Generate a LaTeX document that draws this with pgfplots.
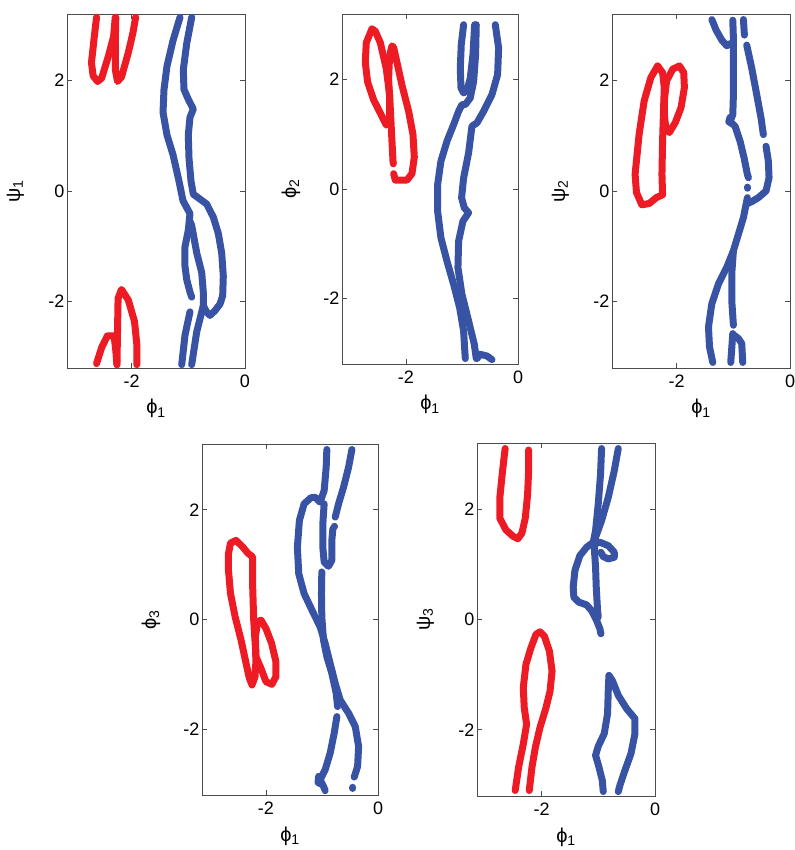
\documentclass[border=0pt]{standalone}
\usepackage{fontspec}
\setmainfont{Liberation Sans}
\usepackage{pgfplots}
\pgfplotsset{compat=1.18}
\definecolor{cred}{RGB}{237,28,36}
\definecolor{cblue}{RGB}{57,83,164}
\pgfplotsset{
  panel/.style={
    scale only axis, anchor=south west,
    xmin=-3.1416, xmax=0, ymin=-3.2, ymax=3.2,
    xtick={-2,0}, ytick={-2,0,2},
    tick align=inside, major tick length=5pt,
    axis line style={black!70, line width=0.7pt},
    every tick/.style={black!70, line width=0.7pt},
    tick label style={font=\fontsize{18}{21}\selectfont},
    xticklabel style={yshift=-3pt},
    yticklabel style={xshift=1pt},
    label style={font=\fontsize{20}{23}\selectfont},
    xlabel style={at={(axis description cs:0.5,0)}, anchor=base, yshift=-46pt},
    ylabel style={at={(axis description cs:-0.29,0.5)}, anchor=center},
    /pgf/number format/assume math mode=true,
    clip=true,
  },
  rc/.style={draw=cred, line width=7pt, line cap=round, line join=round, no marks},
  bc/.style={draw=cblue, line width=7pt, line cap=round, line join=round, no marks},
}
\begin{document}
\begin{tikzpicture}
\useasboundingbox (0,0) rectangle (794pt,850pt);
% ---------------- Panel 1
\begin{axis}[panel, at={(67pt,482pt)}, width=178pt, height=354pt,
  xlabel={ϕ\textsubscript{1}}, ylabel={ψ\textsubscript{1}}]
\addplot[rc] coordinates {(-2.62,3.14) (-2.66,2.79) (-2.71,2.32) (-2.68,2.08) (-2.60,1.98) (-2.53,2.04) (-2.41,2.44) (-2.32,2.79) (-2.29,3.14)};
\addplot[rc] coordinates {(-2.28,3.14) (-2.29,2.67) (-2.29,2.20) (-2.25,1.98) (-2.18,2.06) (-2.06,2.50) (-1.98,2.85) (-1.93,3.14)};
\addplot[rc] coordinates {(-2.26,-3.14) (-2.25,-2.53) (-2.24,-1.94) (-2.18,-1.78) (-2.06,-1.97) (-1.95,-2.36) (-1.91,-2.77) (-1.91,-3.14)};
\addplot[rc] coordinates {(-2.62,-3.12) (-2.53,-2.83) (-2.43,-2.62) (-2.31,-2.62) (-2.28,-2.89) (-2.26,-3.14)};
\addplot[bc] coordinates {(-1.147,3.14) (-1.271,2.718) (-1.377,2.256) (-1.430,1.830) (-1.447,1.421) (-1.377,1.012) (-1.271,0.657) (-1.165,0.178) (-1.094,-0.178) (-0.971,-0.409) (-1.001,-0.710) (-1.059,-1.007) (-1.059,-1.362) (-1.029,-1.599) (-0.971,-1.829) (-0.941,-1.918)};
\addplot[bc] coordinates {(-0.941,3.14) (-1.029,2.664) (-1.089,2.190) (-1.077,1.835) (-1.001,1.657) (-0.912,1.480) (-0.971,1.332) (-1.001,1.012) (-0.988,0.586) (-0.953,0.178) (-0.912,-0.059) (-0.794,-0.147) (-0.676,-0.236) (-0.559,-0.474) (-0.471,-0.769) (-0.411,-1.124) (-0.383,-1.540) (-0.394,-1.895) (-0.441,-2.043) (-0.529,-2.162) (-0.618,-2.250) (-0.676,-2.190) (-0.736,-2.073) (-0.852,-2.545) (-0.941,-3.14)};
\addplot[bc] coordinates {(-0.971,-0.55) (-0.941,-0.622) (-0.852,-1.119) (-0.764,-1.474) (-0.736,-1.829) (-0.736,-2.073)};
\addplot[bc] coordinates {(-0.971,-2.185) (-1.059,-2.606) (-1.117,-3.14)};
\end{axis}
% ---------------- Panel 2
\begin{axis}[panel, at={(342pt,486pt)}, width=176pt, height=350pt,
  xlabel={ϕ\textsubscript{1}}, ylabel={ϕ\textsubscript{2}}]
\addplot[rc] coordinates {(-2.607,2.928) (-2.708,2.677) (-2.726,2.317) (-2.685,1.958) (-2.577,1.629) (-2.458,1.389) (-2.351,1.168) (-2.292,1.240) (-2.292,1.719) (-2.351,2.198) (-2.458,2.677) (-2.548,2.886) (-2.607,2.928)};
\addplot[rc] coordinates {(-2.22,0.28) (-2.19,0.162) (-1.982,0.162) (-1.893,0.281) (-1.851,0.581) (-1.875,1.0) (-1.952,1.419) (-2.071,1.898) (-2.161,2.317) (-2.22,2.587) (-2.25,2.617) (-2.292,2.437) (-2.310,2.018) (-2.280,1.479) (-2.25,0.880) (-2.232,0.521) (-2.225,0.46)};
\addplot[bc] coordinates {(-0.971,3.004) (-1.013,2.639) (-1.030,2.213) (-1.018,1.848) (-0.971,1.757) (-0.911,1.799) (-0.852,2.030) (-0.804,2.456) (-0.774,3.004)};
\addplot[bc] coordinates {(-0.745,3.004) (-0.757,2.456) (-0.792,1.969) (-0.852,1.665) (-0.941,1.543) (-1.001,1.543) (-1.060,1.421) (-1.149,1.178) (-1.268,0.873) (-1.376,0.508) (-1.435,0.082) (-1.435,-0.405) (-1.376,-0.892) (-1.268,-1.318) (-1.149,-1.744) (-1.042,-2.170) (-0.971,-2.597) (-0.941,-3.10)};
\addplot[bc] coordinates {(-0.405,3.004) (-0.346,2.578) (-0.364,2.091) (-0.465,1.726) (-0.614,1.421) (-0.733,1.208) (-0.822,1.148) (-0.882,0.660) (-0.971,0.203) (-1.007,-0.161) (-0.959,-0.344) (-0.882,-0.435) (-0.983,-0.588) (-1.060,-0.953) (-1.072,-1.440) (-1.001,-1.927) (-0.882,-2.414) (-0.780,-2.841) (-0.745,-3.10)};
\addplot[bc] coordinates {(-0.733,-3.10) (-0.673,-3.023) (-0.554,-3.054) (-0.465,-3.12)};
\end{axis}
% ---------------- Panel 3
\begin{axis}[panel, at={(612pt,482pt)}, width=178pt, height=354pt,
  xlabel={ϕ\textsubscript{1}}, ylabel={ψ\textsubscript{2}}]
\addplot[rc] coordinates {(-2.337,2.262) (-2.456,2.051) (-2.574,1.630) (-2.663,1.027) (-2.734,0.304) (-2.710,-0.027) (-2.615,-0.250) (-2.485,-0.226) (-2.355,-0.117) (-2.249,-0.069) (-2.260,0.304) (-2.249,0.907) (-2.231,1.509) (-2.219,1.870) (-2.249,2.141) (-2.337,2.262)};
\addplot[rc] coordinates {(-2.219,1.630) (-2.178,1.991) (-2.071,2.202) (-1.953,2.262) (-1.876,2.141) (-1.864,1.870) (-1.923,1.509) (-2.024,1.238) (-2.130,1.057) (-2.189,1.117) (-2.219,1.389) (-2.219,1.630)};
\addplot[bc] coordinates {(-1.380,3.10) (-1.304,2.908) (-1.204,2.728) (-1.116,2.626) (-1.046,2.668)};
\addplot[bc] coordinates {(-1.010,3.088) (-0.999,2.758) (-0.999,2.278) (-0.999,1.739) (-1.010,1.379) (-1.057,1.259) (-0.969,1.169) (-0.881,0.899) (-0.811,0.600) (-0.752,0.300) (-0.734,0.240)};
\addplot[bc] coordinates {(-1.06,1.33) (-1.08,1.25) (-1.03,1.22)};
\addplot[bc] coordinates {(-0.752,0.07) (-0.752,0.05)};
\addplot[bc] coordinates {(-0.822,3.10) (-0.805,2.818)};
\addplot[bc] coordinates {(-0.764,2.638) (-0.675,2.218) (-0.587,1.739) (-0.511,1.319) (-0.470,1.019)};
\addplot[bc] coordinates {(-0.423,0.809) (-0.382,0.540) (-0.370,0.240) (-0.423,0.0) (-0.558,-0.120) (-0.675,-0.192) (-0.752,-0.228)};
\addplot[bc] coordinates {(-0.752,-0.120) (-0.822,-0.480) (-0.910,-0.779) (-0.999,-1.079) (-1.116,-1.379) (-1.263,-1.679) (-1.380,-2.038) (-1.439,-2.458) (-1.421,-2.818) (-1.363,-3.10)};
\addplot[bc] coordinates {(-0.999,-1.079) (-1.028,-1.499) (-1.028,-1.978) (-0.999,-2.428)};
\addplot[bc] coordinates {(-1.010,-2.578) (-1.046,-3.10)};
\addplot[bc] coordinates {(-0.987,-2.608) (-0.910,-2.668) (-0.852,-2.758) (-0.834,-3.10)};
\end{axis}
% ---------------- Panel 4
\begin{axis}[panel, at={(202pt,55pt)}, width=176pt, height=351pt,
  xlabel={ϕ\textsubscript{1}}, ylabel={ϕ\textsubscript{3}}]
\addplot[rc] coordinates {(-2.533,1.442) (-2.633,1.394) (-2.669,1.2) (-2.669,0.897) (-2.633,0.473) (-2.550,0.048) (-2.444,-0.376) (-2.355,-0.8) (-2.296,-1.073) (-2.249,-1.194) (-2.195,-1.042) (-2.178,-0.739) (-2.189,-0.497) (-2.219,-0.012) (-2.237,0.594) (-2.237,1.139) (-2.325,1.212) (-2.414,1.321) (-2.533,1.442)};
\addplot[rc] coordinates {(-2.178,-0.679) (-2.189,-0.315) (-2.148,-0.042) (-2.089,-0.012) (-2.0,-0.164) (-1.899,-0.436) (-1.822,-0.770) (-1.822,-1.042) (-1.893,-1.182) (-2.0,-1.133) (-2.089,-0.891) (-2.178,-0.679)};
\addplot[bc] coordinates {(-0.913,3.10) (-0.925,2.776) (-0.961,2.352) (-1.033,2.139) (-1.122,2.230) (-1.200,2.218) (-1.319,2.109) (-1.403,1.806) (-1.439,1.321) (-1.415,0.836) (-1.319,0.473) (-1.164,0.139) (-1.033,-0.133) (-0.943,-0.436) (-0.854,-0.8) (-0.764,-1.164) (-0.675,-1.467) (-0.525,-1.709) (-0.406,-1.952) (-0.346,-2.315) (-0.364,-2.679) (-0.424,-2.873)};
\addplot[bc] coordinates {(-0.448,-3.06) (-0.448,-3.08)};
\addplot[bc] coordinates {(-0.961,2.109) (-0.985,1.745) (-0.985,1.321) (-0.961,1.048) (-0.884,0.970) (-0.824,1.079) (-0.824,1.442) (-0.806,1.655)};
\addplot[bc] coordinates {(-0.466,3.10) (-0.525,2.776) (-0.615,2.412) (-0.704,2.109) (-0.764,1.867)};
\addplot[bc] coordinates {(-0.782,1.70) (-0.782,1.69)};
\addplot[bc] coordinates {(-1.003,0.867) (-1.009,0.473) (-1.003,0.048) (-0.973,-0.376) (-0.913,-0.679) (-0.824,-0.982) (-0.746,-1.345) (-0.722,-1.588)};
\addplot[bc] coordinates {(-0.734,-1.770) (-0.782,-2.073) (-0.854,-2.436) (-0.943,-2.739) (-1.033,-2.921) (-0.973,-3.042) (-0.943,-3.12)};
\addplot[bc] coordinates {(-1.06,-2.86) (-1.07,-2.97) (-1.02,-3.0)};
\end{axis}
% ---------------- Panel 5
\begin{axis}[panel, at={(477pt,54pt)}, width=178pt, height=353pt,
  xlabel={ϕ\textsubscript{1}}, ylabel={ψ\textsubscript{3}}]
\addplot[rc] coordinates {(-2.645,3.10) (-2.692,2.681) (-2.740,2.199) (-2.740,1.837) (-2.633,1.627) (-2.503,1.506) (-2.420,1.464) (-2.349,1.566) (-2.290,1.837) (-2.249,2.259) (-2.231,2.681) (-2.231,3.072)};
\addplot[rc] coordinates {(-2.467,-3.10) (-2.408,-2.681) (-2.325,-2.259) (-2.266,-1.898) (-2.308,-1.596) (-2.325,-1.235) (-2.278,-0.813) (-2.189,-0.512) (-2.101,-0.271) (-2.030,-0.223) (-1.953,-0.301) (-1.864,-0.572) (-1.817,-0.934) (-1.852,-1.295) (-1.923,-1.596) (-2.030,-1.958) (-2.112,-2.319) (-2.172,-2.681) (-2.219,-3.10)};
\addplot[bc] coordinates {(-0.943,3.10) (-0.961,2.637) (-1.002,2.094) (-1.049,1.611) (-1.090,1.400) (-1.208,1.309) (-1.326,1.158) (-1.414,0.887) (-1.444,0.585) (-1.432,0.404) (-1.344,0.314) (-1.208,0.265) (-1.120,0.163) (-1.031,-0.018) (-0.972,-0.169) (-0.955,-0.259)};
\addplot[bc] coordinates {(-0.648,3.10) (-0.719,2.697) (-0.825,2.214) (-0.943,1.792) (-1.049,1.490) (-1.072,1.309) (-1.049,0.947) (-1.037,0.585) (-1.014,0.163) (-1.002,0.042)};
\addplot[bc] coordinates {(-1.072,1.370) (-0.972,1.400) (-0.825,1.339) (-0.719,1.219) (-0.719,1.128) (-0.825,1.098) (-0.913,1.140) (-0.955,1.219)};
\addplot[bc] coordinates {(-0.913,-3.12) (-0.931,-2.914) (-0.990,-2.673) (-1.049,-2.462) (-1.002,-2.299) (-0.896,-2.069) (-0.837,-1.707) (-0.825,-1.285) (-0.813,-1.014) (-0.754,-1.104) (-0.648,-1.376) (-0.501,-1.617) (-0.354,-1.798) (-0.354,-2.069) (-0.424,-2.431) (-0.530,-2.733) (-0.619,-3.005) (-0.648,-3.12)};
\end{axis}
\end{tikzpicture}
\end{document}
